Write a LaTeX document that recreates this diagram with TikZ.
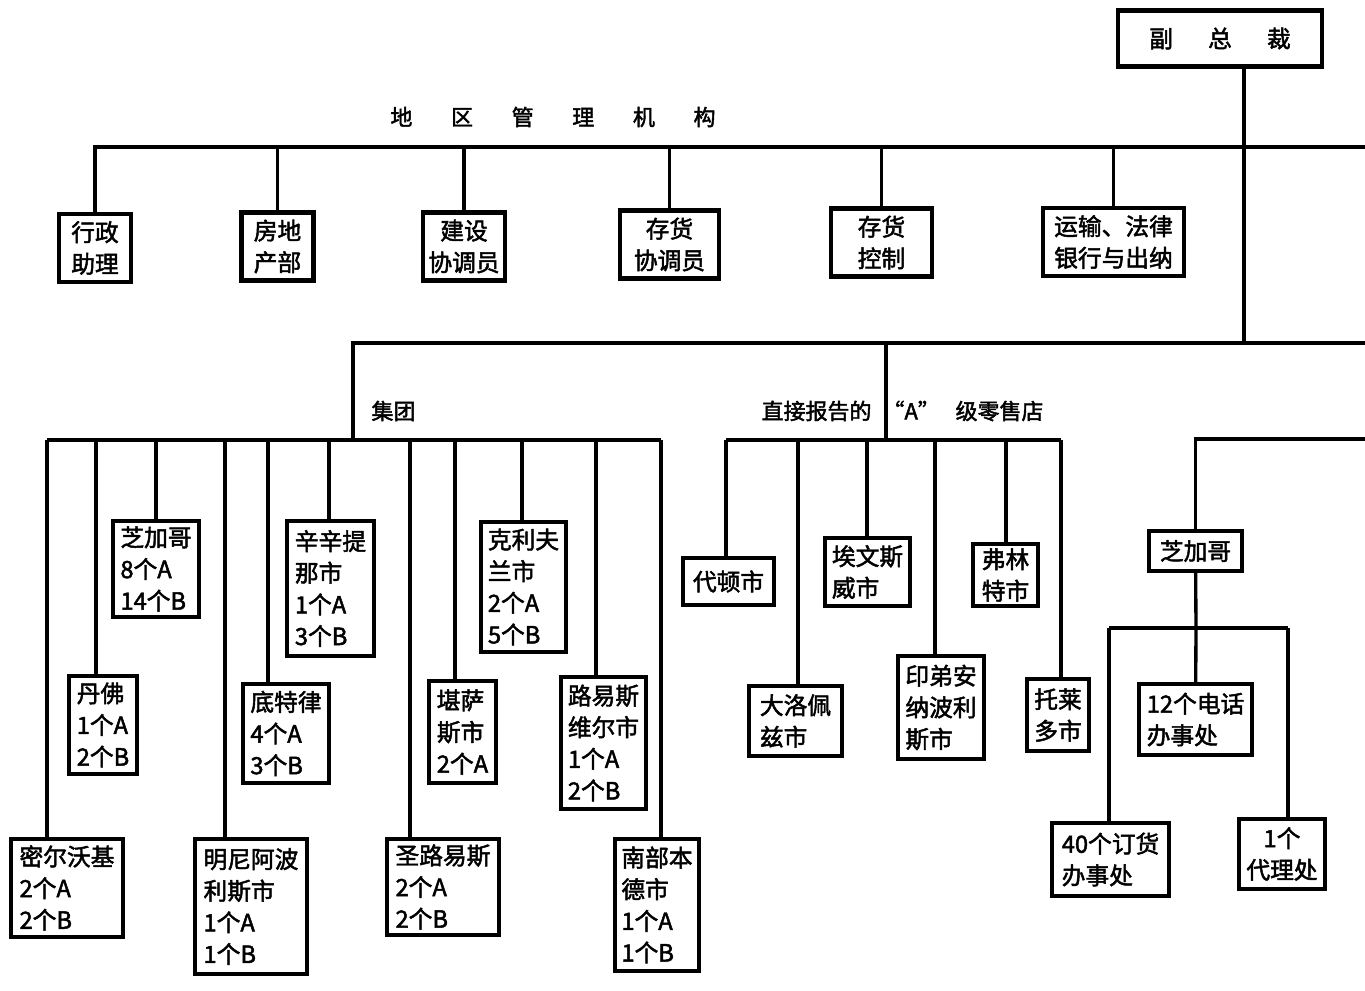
\documentclass[tikz,border=0pt]{standalone}
\usepackage{fontspec}
\setmainfont{Noto Sans CJK SC}[AutoFakeBold=2]

\begin{document}
\begin{tikzpicture}[
    x=0.02cm, y=-0.02cm,
    line width=1.9pt,
    every node/.style={font=\fontsize{13.5}{18}\selectfont\bfseries},
    unit/.style 2 args={draw, line width=2.3pt, align=left, inner sep=2pt,
      minimum width=#1*0.02cm, minimum height=#2*0.02cm},
    lbl/.style={font=\fontsize{12.5}{15}\selectfont\bfseries}]
    \useasboundingbox (0,0) rectangle (1365,990);

    % NODES
    % vice president
    \node[unit={204}{56}] (vp) at (1220,38.5) {副\hspace{20pt}总\hspace{20pt}裁};
    % regional staff
    \node[lbl] (reg) at (553,117) {地\hspace{22pt}区\hspace{22pt}管\hspace{22pt}理\hspace{22pt}机\hspace{22pt}构};
    \node[unit={72}{68}, align=center] (adm) at (95,248) {行政\\助理};
    \node[unit={72}{68}, align=center] (est) at (277.5,246.5) {房地\\产部};
    \node[unit={82}{68}, align=center] (bld) at (464,246.5) {建设\\协调员};
    \node[unit={99}{68}, align=center] (inv) at (669.5,244.5) {存货\\协调员};
    \node[unit={101}{68}, align=center] (ctl) at (881.5,242.5) {存货\\控制};
    \node[unit={141}{68}, align=center] (tra) at (1113.5,242) {运输、法律\\银行与出纳};
    % group label
    \node[lbl, anchor=west] (grp) at (364,411) {集团};
    % direct stores label
    \node[lbl, anchor=east] (dirL) at (879,411) {直接报告的};
    \node[lbl, anchor=west] (dirR) at (875,411) {“A”\hspace{9pt}级零售店};
    % group cities
    \node[unit={112}{98}] (mil) at (67,888) {密尔沃基\\2个A\\2个B};
    \node[unit={68}{98}] (den) at (103,725) {丹佛\\1个A\\2个B};
    \node[unit={86}{96}] (chi) at (156,569) {芝加哥\\8个A\\14个B};
    \node[unit={112}{135}] (min) at (251,906.5) {明尼阿波\\利斯市\\1个A\\1个B};
    \node[unit={86}{99}] (det) at (286,733.5) {底特律\\4个A\\3个B};
    \node[unit={87}{135}] (cin) at (330.5,588.5) {辛辛提\\那市\\1个A\\3个B};
    \node[unit={112}{96}] (stl) at (443,887) {圣路易斯\\2个A\\2个B};
    \node[unit={67}{102}] (kan) at (462.5,732) {堪萨\\斯市\\2个A};
    \node[unit={85}{130}] (cle) at (523.5,587) {克利夫\\兰市\\2个A\\5个B};
    \node[unit={85}{132}] (lou) at (603.5,743) {路易斯\\维尔市\\1个A\\2个B};
    \node[unit={84}{132}] (sob) at (657,905) {南部本\\德市\\1个A\\1个B};
    % direct stores
    \node[unit={91}{47}] (day) at (728.5,581.5) {代顿市};
    \node[unit={93}{70}] (grr) at (795.5,721) {大洛佩\\兹市};
    \node[unit={85}{68}] (eva) at (867.5,572) {埃文斯\\威市};
    \node[unit={86}{103}] (ind) at (941,707.5) {印弟安\\纳波利\\斯市};
    \node[unit={65}{62}] (fli) at (1005.5,575) {弗林\\特市};
    \node[unit={62}{72}] (tol) at (1058,715) {托莱\\多市};
    % chicago sales
    \node[unit={93}{40}] (cs) at (1195.5,551) {芝加哥};
    \node[unit={113}{71}] (tel) at (1195.5,719.5) {12个电话\\办事处};
    \node[unit={117}{73}] (ord) at (1110.5,859.5) {40个订货\\办事处};
    \node[unit={86}{70}, align=center] (agt) at (1282,854) {1个\\代理处};

    % COORDINATES
    \coordinate (topR) at (1365,147);
    \coordinate (vpdrop) at (1244,343);
    \coordinate (midR) at (1365,343);
    \coordinate (gbar) at (353,440);
    \coordinate (dbar) at (886,440);
    \coordinate (cR) at (1365,439);
    \coordinate (cbar) at (1196,628);
    \coordinate (c-ord) at (1109,628);
    \coordinate (c-agt) at (1288,628);
    % group bar
    \coordinate (g-mil) at (47,440);
    \coordinate (g-den) at (96,440);
    \coordinate (g-chi) at (156,440);
    \coordinate (g-min) at (225,440);
    \coordinate (g-det) at (268,440);
    \coordinate (g-cin) at (329,440);
    \coordinate (g-stl) at (410,440);
    \coordinate (g-kan) at (455,440);
    \coordinate (g-cle) at (522,440);
    \coordinate (g-lou) at (596,440);
    \coordinate (g-sob) at (661,440);
    % direct bar
    \coordinate (d-day) at (726,440);
    \coordinate (d-grr) at (798,440);
    \coordinate (d-eva) at (867,440);
    \coordinate (d-ind) at (935,440);
    \coordinate (d-fli) at (1006,440);
    \coordinate (d-tol) at (1061,440);

    % LINES
    \draw (vpdrop |- vp.south) -- (vpdrop);
    \draw (adm) |- (topR);
    \draw (est) -- (est |- topR);
    \draw (bld) -- (bld |- topR);
    \draw (inv) -- (inv |- topR);
    \draw (ctl) -- (ctl |- topR);
    \draw (tra) -- (tra |- topR);
    \draw (gbar) |- (midR);
    \draw (dbar) -- (dbar |- midR);
    % group
    \draw (g-mil) -- (g-sob);
    \foreach \c in {mil,den,chi,min,det,cin,stl,kan,cle,lou,sob}
      \draw (g-\c) -- (g-\c |- \c.north);
    % direct
    \draw (d-day) -- (d-tol);
    \foreach \c in {day,grr,eva,ind,fli,tol}
      \draw (d-\c) -- (d-\c |- \c.north);
    % chicago
    \draw (cR) -| (cs);
    \draw (cs) -- (cbar);
    \draw (c-ord) -- (c-agt);
    \draw (c-ord) -- (c-ord |- ord.north);
    \draw (cbar) -- (tel);
    \draw (c-agt) -- (c-agt |- agt.north);
  \end{tikzpicture}
\end{document}
